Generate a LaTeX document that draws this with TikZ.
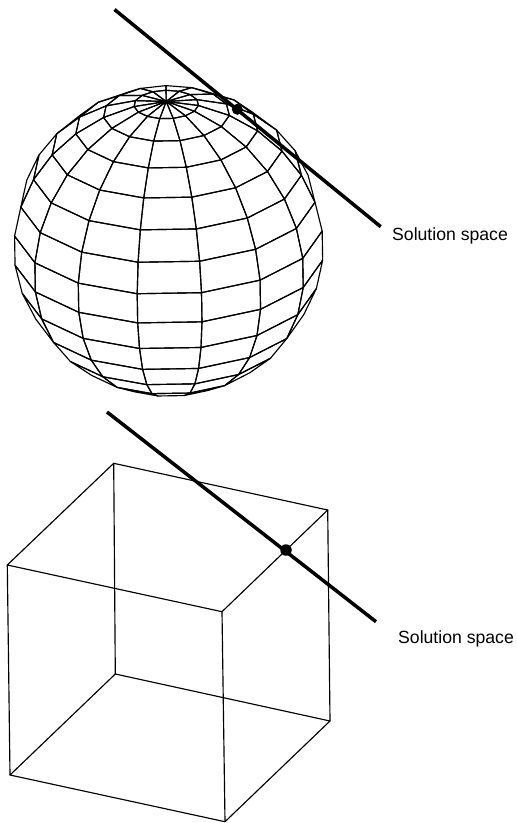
\documentclass[tikz,border=0pt]{standalone}
\usepackage{fontspec}
\setmainfont{Liberation Sans}
\tikzset{
  wire/.style={line width=1.15bp,black,line join=round},
  edgeline/.style={line width=1.15bp,black,line cap=round},
  solution/.style={line width=3.5bp,black},
  soldot/.style={circle,fill=black,draw=none,inner sep=0pt,minimum size=#1},
  lab/.style={inner sep=0pt,anchor=base west,font=\fontsize{17.7}{20}\selectfont},
}
% sphere parameters: centre, radius, tilt, roll (all in px / degrees)
\def\SCX{168.5}\def\SCY{241}\def\SR{155.5}\def\ST{26.2}\def\SRoll{0.0165}
% vertex i (colatitude step 12) j (longitude step 24, offset 12)
\newcommand{\sphvert}[4]{%
  \pgfmathsetmacro{\cc}{#1*12}%
  \pgfmathsetmacro{\ll}{12+#2*24}%
  \pgfmathsetmacro{\XX}{sin(\cc)*sin(\ll)}%
  \pgfmathsetmacro{\YY}{cos(\cc)*cos(\ST)-sin(\cc)*cos(\ll)*sin(\ST)}%
  \pgfmathsetmacro{#3}{\SCX+\SR*(\XX-\YY*\SRoll)}%
  \pgfmathsetmacro{#4}{\SCY-\SR*(\YY+\XX*\SRoll)}%
}
\begin{document}
\begin{tikzpicture}[x=1bp,y=-1bp]
\useasboundingbox (0,0) rectangle (517,823);
% sphere: only faces turned to the viewer
\foreach \i in {0,...,14}{
  \foreach \j in {0,...,14}{
    \pgfmathtruncatemacro{\ip}{\i+1}
    \pgfmathtruncatemacro{\jp}{\j+1}
    \sphvert{\i}{\j}{\ax}{\ay}
    \sphvert{\ip}{\j}{\bx}{\by}
    \sphvert{\ip}{\jp}{\cx}{\cy}
    \sphvert{\i}{\jp}{\dx}{\dy}
    \pgfmathsetmacro{\area}{(\cx-\ax)*(\dy-\by)-(\dx-\bx)*(\cy-\ay)}
    \pgfmathparse{abs(\area)>0.001 && \area<0 ? 1 : 0}
    \ifnum\pgfmathresult=1
      \draw[wire] (\ax,\ay) -- (\bx,\by) -- (\cx,\cy) -- (\dx,\dy) -- cycle;
    \fi
  }
}
% upper solution line
\coordinate (l1a) at (114.5,9.5);
\coordinate (l1b) at (380.7,226.7);
\draw[solution] (l1a) -- (l1b);
\node[soldot=11bp] (d1) at (237.3,109.3) {};
\node[lab] (t1) at (392,240.6) {Solution space};
% cube
\coordinate (A) at (113.7,463.3);
\coordinate (B) at (327.7,510);
\coordinate (C) at (7.3,565);
\coordinate (D) at (222,611.7);
\coordinate (E) at (115.3,674);
\coordinate (F) at (330,721);
\coordinate (G) at (10,775);
\coordinate (H) at (225,821.7);
\draw[edgeline] (A)--(B) (B)--(D) (D)--(C) (C)--(A);
\draw[edgeline] (E)--(F) (F)--(H) (H)--(G) (G)--(E);
\draw[edgeline] (A)--(E) (B)--(F) (C)--(G) (D)--(H);
% lower solution line
\coordinate (l2a) at (107,412);
\coordinate (l2b) at (376,621.7);
\draw[solution] (l2a) -- (l2b);
\node[soldot=11.5bp] (d2) at (286,550) {};
\node[lab] (t2) at (398,643) {Solution space};
\end{tikzpicture}
\end{document}
